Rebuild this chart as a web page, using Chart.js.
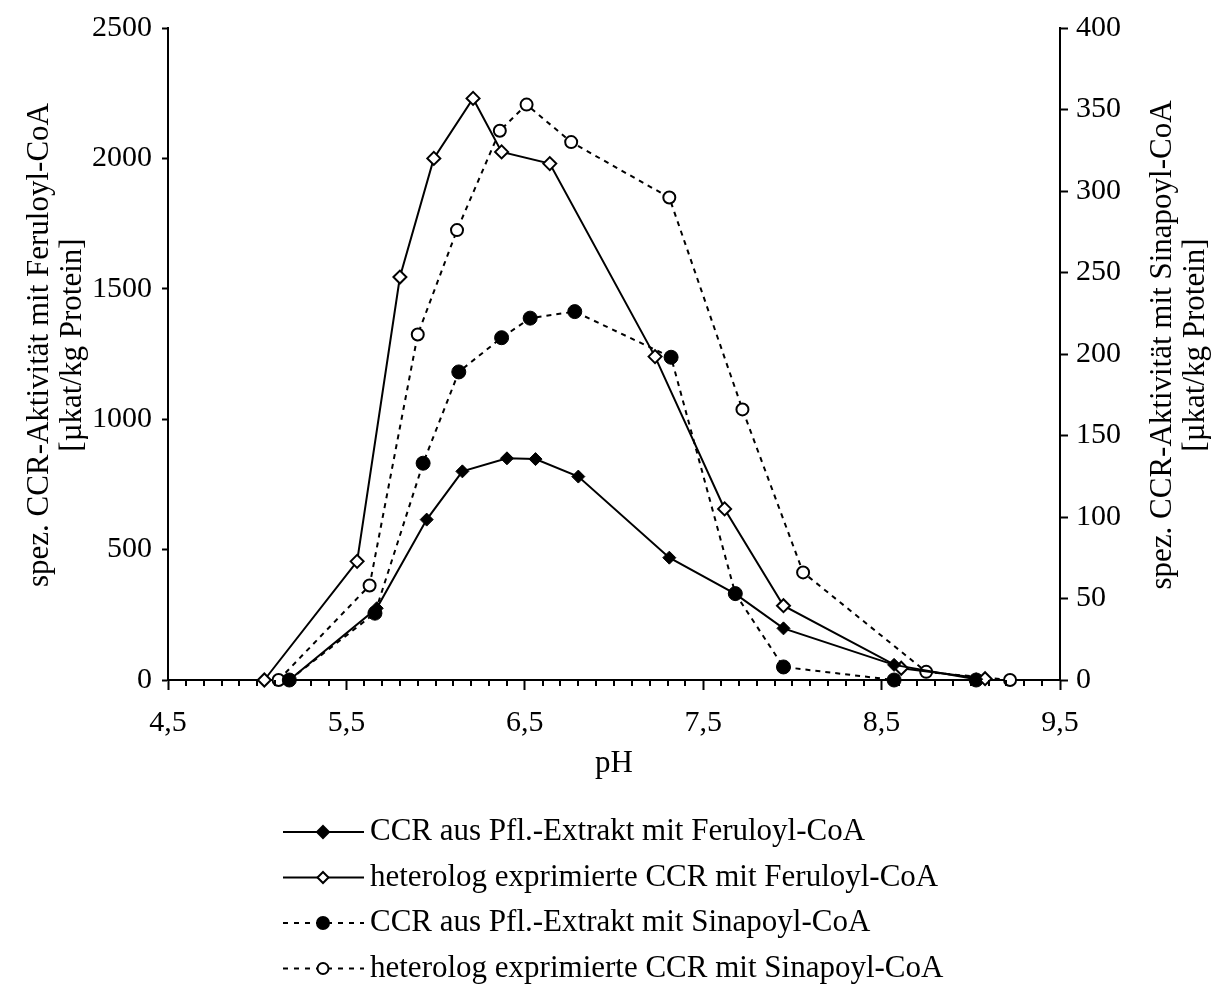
<!DOCTYPE html>
<html>
<head>
<meta charset="utf-8">
<title>CCR-Aktivität pH</title>
<script src="https://cdn.jsdelivr.net/npm/chart.js@4.4.0/dist/chart.umd.min.js"></script>
<style>
	html, body { margin: 0; padding: 0; background: #fff; }
	canvas { display: block; }
</style>
</head>
<body>
<canvas id="phChart" width="1217" height="985"></canvas>
<script>
const phFerExtrakt = [5.18, 5.67, 5.95, 6.15, 6.40, 6.56, 6.80, 7.31, 7.68, 7.95, 8.57, 9.03];
const ferExtrakt   = [0, 275, 615, 800, 850, 847, 780, 469, 330, 198, 58, 3];

const phFerHetero  = [5.04, 5.56, 5.80, 5.99, 6.21, 6.37, 6.64, 7.23, 7.62, 7.95, 8.61, 9.08];
const ferHetero    = [0, 455, 1545, 2000, 2230, 2025, 1980, 1240, 656, 285, 45, 5];

const phSinExtrakt = [5.18, 5.66, 5.93, 6.13, 6.37, 6.53, 6.78, 7.32, 7.68, 7.95, 8.57, 9.03];
const sinExtrakt   = [0, 41, 133, 189, 210, 222, 226, 198, 53, 8, 0, 0];

const phSinHetero  = [5.12, 5.63, 5.90, 6.12, 6.36, 6.51, 6.76, 7.31, 7.72, 8.06, 8.75, 9.22];
const sinHetero    = [0, 58, 212, 276, 337, 353, 330, 296, 166, 66, 5, 0];

const seriesNames = [
	'CCR aus Pfl.-Extrakt mit Feruloyl-CoA',
	'heterolog exprimierte CCR mit Feruloyl-CoA',
	'CCR aus Pfl.-Extrakt mit Sinapoyl-CoA',
	'heterolog exprimierte CCR mit Sinapoyl-CoA'
];

// Achsen
const xMajorTicks = [4.5, 5.5, 6.5, 7.5, 8.5, 9.5];
const xTickLabels = ['4,5', '5,5', '6,5', '7,5', '8,5', '9,5'];
const xTitle = 'pH';
const yLeftTitle = ['spez. CCR-Aktivität mit Feruloyl-CoA', '[µkat/kg Protein]'];
const yRightTitle = ['spez. CCR-Aktivität mit Sinapoyl-CoA', '[µkat/kg Protein]'];

const FONT = '"Liberation Serif", "Times New Roman", serif';

function toPoints(xs, ys) {
	return xs.map(function(x, i) { return { x: x, y: ys[i] }; });
}

function isMajorTick(value) {
	return xMajorTicks.some(function(m) { return Math.abs(m - value) < 1e-6; });
}

function drawMarker(ctx, style, x, y, r, fill) {
	ctx.beginPath();
	if (style === 'circle') {
		ctx.arc(x, y, r, 0, Math.PI * 2);
	} else {
		ctx.moveTo(x, y - r);
		ctx.lineTo(x + r, y);
		ctx.lineTo(x, y + r);
		ctx.lineTo(x - r, y);
		ctx.closePath();
	}
	ctx.fillStyle = fill;
	ctx.fill();
	ctx.lineWidth = 2;
	ctx.strokeStyle = '#000';
	ctx.setLineDash([]);
	ctx.stroke();
}

// kleine Striche alle 0,1 pH, Achsentitel und Legende
const extrasPlugin = {
	id: 'extras',
	afterDraw: function(chart) {
		const ctx = chart.ctx;
		const xs = chart.scales.x;
		const area = chart.chartArea;
		ctx.save();

		// Nebenstriche
		ctx.strokeStyle = '#000';
		ctx.lineWidth = 2;
		xs.ticks.forEach(function(t) {
			if (isMajorTick(t.value)) return;
			const px = Math.round(xs.getPixelForValue(t.value));
			ctx.beginPath();
			ctx.moveTo(px, area.bottom);
			ctx.lineTo(px, area.bottom + 6);
			ctx.stroke();
		});

		// Achsentitel
		ctx.fillStyle = '#000';
		ctx.font = '31px ' + FONT;
		ctx.textAlign = 'center';
		ctx.textBaseline = 'middle';
		ctx.fillText(xTitle, (area.left + area.right) / 2, 764);

		const midY = 345;
		[[40, yLeftTitle[0]], [73, yLeftTitle[1]], [1163, yRightTitle[0]], [1196, yRightTitle[1]]].forEach(function(t) {
			ctx.save();
			ctx.translate(t[0], midY);
			ctx.rotate(-Math.PI / 2);
			ctx.fillText(t[1], 0, 0);
			ctx.restore();
		});

		// Legende
		const rows = [
			{ dash: [], style: 'rectRot', fill: '#000', r: 6 },
			{ dash: [], style: 'rectRot', fill: '#fff', r: 5.5 },
			{ dash: [5, 6], style: 'circle', fill: '#000', r: 6 },
			{ dash: [5, 6], style: 'circle', fill: '#fff', r: 5.5 }
		];
		rows.forEach(function(row, i) {
			const y = 832 + i * 45.5;
			ctx.beginPath();
			ctx.setLineDash(row.dash);
			ctx.lineWidth = 2;
			ctx.strokeStyle = '#000';
			ctx.moveTo(283, y);
			ctx.lineTo(364, y);
			ctx.stroke();
			drawMarker(ctx, row.style, 323, y, row.r, row.fill);
			ctx.fillStyle = '#000';
			ctx.textAlign = 'left';
			ctx.fillText(seriesNames[i], 370, y);
		});
		ctx.restore();
	}
};

function initPhChart() {
	const ctx = document.getElementById('phChart').getContext('2d');
	new Chart(ctx, {
		type: 'scatter',
		data: {
			datasets: [{
				label: seriesNames[0],
				data: toPoints(phFerExtrakt, ferExtrakt),
				yAxisID: 'y',
				showLine: true,
				borderColor: '#000',
				borderWidth: 2,
				pointStyle: 'rectRot',
				pointRadius: 6.5,
				pointBackgroundColor: '#000',
				pointBorderColor: '#000',
				pointBorderWidth: 1,
				clip: false
			}, {
				label: seriesNames[1],
				data: toPoints(phFerHetero, ferHetero),
				yAxisID: 'y',
				showLine: true,
				borderColor: '#000',
				borderWidth: 2,
				pointStyle: 'rectRot',
				pointRadius: 6.5,
				pointBackgroundColor: '#fff',
				pointBorderColor: '#000',
				pointBorderWidth: 2,
				clip: false
			}, {
				label: seriesNames[2],
				data: toPoints(phSinExtrakt, sinExtrakt),
				yAxisID: 'y2',
				showLine: true,
				borderColor: '#000',
				borderWidth: 2,
				borderDash: [5, 5],
				pointStyle: 'circle',
				pointRadius: 7,
				pointBackgroundColor: '#000',
				pointBorderColor: '#000',
				pointBorderWidth: 1,
				clip: false
			}, {
				label: seriesNames[3],
				data: toPoints(phSinHetero, sinHetero),
				yAxisID: 'y2',
				showLine: true,
				borderColor: '#000',
				borderWidth: 2,
				borderDash: [5, 5],
				pointStyle: 'circle',
				pointRadius: 6,
				pointBackgroundColor: '#fff',
				pointBorderColor: '#000',
				pointBorderWidth: 2,
				clip: false
			}]
		},
		options: {
			responsive: false,
			animation: false,
			layout: {
				padding: { top: 28, left: 0, right: 0, bottom: 245 }
			},
			plugins: {
				legend: { display: false },
				tooltip: { enabled: false }
			},
			scales: {
				x: {
					type: 'linear',
					min: 4.5,
					max: 9.5,
					afterFit: function(scale) { scale.height = 60; },
					ticks: {
						stepSize: 0.1,
						autoSkip: false,
						maxRotation: 0,
						padding: 15,
						color: '#000',
						font: { family: FONT, size: 30 },
						callback: function(value) {
							const idx = xMajorTicks.findIndex(function(m) { return Math.abs(m - value) < 1e-6; });
							return idx >= 0 ? xTickLabels[idx] : '';
						}
					},
					grid: {
						drawOnChartArea: false,
						tickLength: 10,
						tickWidth: 2,
						tickColor: function(c) {
							return c.tick && isMajorTick(c.tick.value) ? '#000' : 'rgba(0,0,0,0)';
						}
					},
					border: { color: '#000', width: 2 }
				},
				y: {
					position: 'left',
					min: 0,
					max: 2500,
					afterFit: function(scale) { scale.width = 168; },
					ticks: {
						stepSize: 500,
						padding: 10,
						color: '#000',
						font: { family: FONT, size: 30 },
						callback: function(value) { return String(value); }
					},
					grid: {
						drawOnChartArea: false,
						tickLength: 6,
						tickWidth: 2,
						tickColor: '#000'
					},
					border: { color: '#000', width: 2 }
				},
				y2: {
					position: 'right',
					min: 0,
					max: 400,
					afterFit: function(scale) { scale.width = 157; },
					ticks: {
						stepSize: 50,
						padding: 8,
						color: '#000',
						font: { family: FONT, size: 30 },
						callback: function(value) { return String(value); }
					},
					grid: {
						drawOnChartArea: false,
						tickLength: 8,
						tickWidth: 2,
						tickColor: '#000'
					},
					border: { color: '#000', width: 2 }
				}
			}
		},
		plugins: [extrasPlugin]
	});
}

document.addEventListener('DOMContentLoaded', function() {
	initPhChart();
});
</script>
</body>
</html>
